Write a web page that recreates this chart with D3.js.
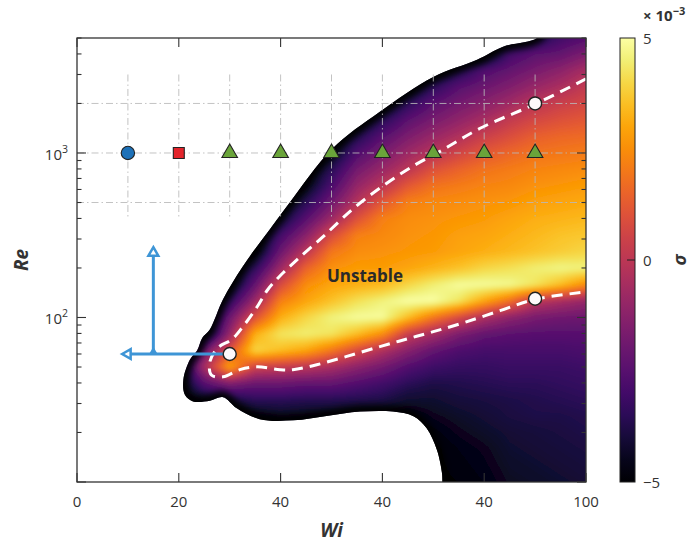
<!DOCTYPE html>
<html>
<head>
<meta charset="utf-8">
<script src="https://d3js.org/d3.v7.min.js"></script>
<style>
  body { margin: 0; background: #fff; }
  svg text { font-family: "Open Sans", "Noto Sans", sans-serif; fill: #333; }
</style>
</head>
<body>
<svg id="chart" width="693" height="542"></svg>
<script>
// growth rate sigma (x 1e-3): rows = log10(Re), columns = Wi
var wiCols = [20, 25, 30, 35, 40, 45, 50, 55, 60, 65, 70, 75, 80, 85, 90, 95, 100];
var logReRows = [1.0, 1.1, 1.2, 1.3, 1.4, 1.5, 1.6, 1.7, 1.8, 1.9, 2.0, 2.1, 2.2, 2.3,
                 2.4, 2.5, 2.6, 2.7, 2.8, 2.9, 3.0, 3.1, 3.2, 3.3, 3.4, 3.5, 3.6, 3.7];
var sigmaGrid = [
  [-5,-5,-5,-5,-5,-5,-5,-5,-5,-5,-5,-4.9,-4.7,-4.4,-4.3,-4.2,-4.1],
  [-5,-5,-5,-5,-5,-5,-5,-5,-5,-5,-5,-4.8,-4.6,-4.3,-4.2,-4.1,-4],
  [-5,-5,-5,-5,-5,-5,-5,-5,-5,-5,-5,-4.7,-4.5,-4.2,-4.1,-4,-3.9],
  [-5,-5,-5,-5,-5,-5,-5,-5,-5,-5,-4.8,-4.5,-4.3,-4.1,-4,-3.9,-3.8],
  [-5,-5,-5,-4.8,-4.5,-4.6,-4.7,-4.8,-4.8,-4.9,-4.5,-4.3,-4.1,-3.9,-3.8,-3.8,-3.7],
  [-5,-4.5,-4,-3.5,-3.5,-3.6,-3.6,-3.7,-3.8,-4.2,-4.2,-4,-3.9,-3.8,-3.7,-3.6,-3.5],
  [-5,-2.5,-1.5,-2,-2,-2.2,-2.2,-2.6,-3,-3.5,-3.8,-3.7,-3.6,-3.5,-3.5,-3.4,-3.3],
  [-5,-0.5,3,0.5,0.3,0,-0.5,-1.2,-1.8,-2.6,-3.1,-3.3,-3.3,-3.2,-3.2,-3.2,-3.1],
  [-5,-2,1,4,3.5,3,2,0.8,-0.3,-1.3,-2.2,-2.7,-2.9,-2.9,-2.9,-2.9,-2.8],
  [-5,-5,-1,3.2,4.3,4.5,4.3,3.5,2.5,0.3,-0.6,-1.6,-2.2,-2.4,-2.5,-2.5,-2.5],
  [-5,-5,-2,1,3.2,4,4.6,4.9,4.9,3.5,2,0.8,-0.4,-1.2,-1.7,-1.9,-2],
  [-5,-5,-3.5,-0.8,2.2,3,3.6,4.2,4.6,5,5,4.3,3,1.8,0,-0.5,-1],
  [-5,-5,-5,-2.2,0.8,2.5,3,3.2,3.4,4,4.5,4.9,4.9,4.8,4.3,3.5,2.5],
  [-5,-5,-5,-3.5,-0.8,1.5,2.6,2.8,2.8,3,3.3,3.6,4,4.2,4.5,4.7,4.6],
  [-5,-5,-5,-5,-2,0,2,2.5,2.6,2.7,2.8,3,3.2,3.4,3.6,3.8,4],
  [-5,-5,-5,-5,-3,-1.3,0.8,2.2,2.4,2.6,2.7,2.9,3,3.2,3.4,3.6,3.7],
  [-5,-5,-5,-5,-4.3,-2.5,-0.8,1,2.2,2.5,2.6,2.7,2.8,3,3.2,3.3,3.4],
  [-5,-5,-5,-5,-5,-3.6,-1.9,-0.2,1.2,2.2,2.4,2.5,2.6,2.7,2.9,3,3.1],
  [-5,-5,-5,-5,-5,-4.7,-2.8,-1,0,1.2,1.9,2.1,2.3,2.4,2.6,2.7,2.8],
  [-5,-5,-5,-5,-5,-5,-3.6,-1.8,-0.9,0,1,1.5,1.9,2.1,2.3,2.4,2.5],
  [-5,-5,-5,-5,-5,-5,-4.7,-2.7,-1.7,-0.8,-0.1,0.6,1.2,1.6,1.9,2,2.1],
  [-5,-5,-5,-5,-5,-5,-5,-3.8,-2.5,-1.6,-0.9,-0.3,0.4,0.9,1.4,1.6,1.7],
  [-5,-5,-5,-5,-5,-5,-5,-5,-3.6,-2.4,-1.7,-1.1,-0.5,0.2,0.7,1,1.2],
  [-5,-5,-5,-5,-5,-5,-5,-5,-5,-3.5,-2.4,-1.8,-1.3,-0.7,0,0.4,0.7],
  [-5,-5,-5,-5,-5,-5,-5,-5,-5,-5,-3.5,-2.5,-2,-1.5,-0.9,-0.4,0.2],
  [-5,-5,-5,-5,-5,-5,-5,-5,-5,-5,-5,-3.8,-2.7,-2.2,-1.7,-1.2,-0.5],
  [-5,-5,-5,-5,-5,-5,-5,-5,-5,-5,-5,-5,-5,-3,-2.4,-2.2,-1.6],
  [-5,-5,-5,-5,-5,-5,-5,-5,-5,-5,-5,-5,-5,-5,-4,-3,-2.6]
];

// outline of the computed region, [Wi, Re]
var domainEdge = [
  [92, 6000], [90.4, 5000], [83.7, 4430], [78.6, 3690], [70, 2900], [59.5, 1780],
  [50.1, 1057], [41.8, 500], [37.9, 344], [32.6, 205], [28.7, 129], [26.1, 84.5],
  [24.6, 75], [23.6, 63], [22.2, 55.5], [20.9, 41.9], [21.2, 33.9], [22.8, 30.9],
  [26.1, 31.2], [28.7, 32.8], [31.4, 28.1], [35.9, 24.1], [42.5, 23.7], [49, 25.2],
  [55.6, 26.8], [62.1, 26.8], [66.1, 25.1], [68.7, 21.2], [70.7, 15.7], [71.7, 11.4],
  [71.8, 10], [71.9, 8], [110, 8], [110, 6000]
];

// neutral curve sigma = 0, [Wi, Re]
var neutralCurve = [
  [100, 2820], [90.2, 1995], [79.2, 1413], [71.9, 1047], [66, 832], [60.1, 631],
  [54.2, 457], [48.3, 309], [43.2, 224], [40.2, 183], [37.5, 148], [35.3, 115],
  [32.6, 88], [30.4, 73.5], [27.7, 65.6], [26.1, 53.7], [26.4, 44.7], [28.7, 43.6],
  [32, 48.2], [35.3, 50.1], [39.9, 48.2], [42.4, 48.2], [47.1, 51.6], [53, 58],
  [59.5, 66.5], [64.8, 74], [70, 82], [76, 93], [83.1, 110], [90, 129], [100, 143]
];

var markerWi = [10, 20, 30, 40, 50, 60, 70, 80, 90];
var markerKind = ["circle", "square", "triangle", "triangle", "triangle", "triangle", "triangle", "triangle", "triangle"];
var markerRe = 1000;
var criticalPts = [[30, 60], [90, 130], [90, 2000]];
var gridRe = [500, 1000, 2000];
var gridWi = [10, 20, 30, 40, 50, 60, 70, 80, 90];
var gridWiRange = [400, 3000];
var arrowH = [[30, 60], [9, 60]];
var arrowV = [[15, 60], [15, 265]];
var xTickValues = [0, 20, 40, 60, 80, 100];
var xTickLabels = ["0", "20", "40", "40", "40", "100"];
var yTickValues = [100, 1000];
var yTickExp = ["2", "3"];
var cbTickValues = [-5, 0, 5];
var cbTickLabels = ["\u22125", "0", "5"];

var L = 77, R = 586, T = 38, B = 482;
var x = d3.scaleLinear().domain([0, 100]).range([L, R]);
var y = d3.scaleLog().domain([10, 5000]).range([B, T]);
var cb = d3.scaleLinear().domain([-5, 5]).range([B, T]);

var svg = d3.select("#chart");
var defs = svg.append("defs");
defs.append("clipPath").attr("id", "plotClip")
  .append("rect").attr("x", L).attr("y", T).attr("width", R - L).attr("height", B - T);
var line = d3.line().x(function(d) { return x(d[0]); }).y(function(d) { return y(d[1]); })
  .curve(d3.curveCatmullRom);
var edgePath = line(domainEdge) + "Z";
defs.append("clipPath").attr("id", "domainClip").append("path").attr("d", edgePath);
defs.append("filter").attr("id", "soft")
  .append("feGaussianBlur").attr("stdDeviation", 2.5);
defs.append("filter").attr("id", "fringe").attr("x", -0.1).attr("y", -0.1)
  .attr("width", 1.2).attr("height", 1.2)
  .append("feGaussianBlur").attr("stdDeviation", 3);

// field value by bilinear lookup in the grid
function sigmaAt(wi, lr) {
  var ci = (wi - wiCols[0]) / (wiCols[1] - wiCols[0]);
  var ri = (lr - logReRows[0]) / (logReRows[1] - logReRows[0]);
  ci = Math.max(0, Math.min(wiCols.length - 1.000001, ci));
  ri = Math.max(0, Math.min(logReRows.length - 1.000001, ri));
  var c0 = Math.floor(ci), r0 = Math.floor(ri), fc = ci - c0, fr = ri - r0;
  var g = sigmaGrid;
  var a = g[r0][c0] * (1 - fc) + g[r0][c0 + 1] * fc;
  var b = g[r0 + 1][c0] * (1 - fc) + g[r0 + 1][c0 + 1] * fc;
  return a * (1 - fr) + b * fr;
}

var pad = 12;
var cw = R - L + 2 * pad, ch = B - T + 2 * pad;
var canvas = document.createElement("canvas");
canvas.width = cw; canvas.height = ch;
var ctx = canvas.getContext("2d");
var img = ctx.createImageData(cw, ch);
var lut = d3.range(256).map(function(i) { return d3.rgb(d3.interpolateInferno(i / 255)); });
for (var py = 0; py < ch; py++) {
  var lr = Math.log10(y.invert(T - pad + py + 0.5));
  for (var px = 0; px < cw; px++) {
    var wi = x.invert(L - pad + px + 0.5);
    var v = sigmaAt(wi, lr);
    var c = lut[Math.round((Math.max(-5, Math.min(5, v)) + 5) / 10 * 255)];
    var k = (py * cw + px) * 4;
    img.data[k] = c.r; img.data[k + 1] = c.g; img.data[k + 2] = c.b; img.data[k + 3] = 255;
  }
}
ctx.putImageData(img, 0, 0);

var plot = svg.append("g").attr("clip-path", "url(#plotClip)");
var field = plot.append("g").attr("clip-path", "url(#domainClip)");
field.append("image")
  .attr("href", canvas.toDataURL())
  .attr("x", L - pad).attr("y", T - pad)
  .attr("width", cw).attr("height", ch)
  .attr("preserveAspectRatio", "none")
  .attr("filter", "url(#soft)");
// dark rim just inside the edge of the computed region
field.append("path").attr("d", edgePath)
  .attr("fill", "none").attr("stroke", "#000004").attr("stroke-width", 11)
  .attr("stroke-opacity", 0.95).attr("filter", "url(#fringe)");

// dash-dot reference grid
var gridStyle = function(sel) {
  sel.attr("stroke", "#b9b9b9").attr("stroke-opacity", 0.85).attr("stroke-width", 1)
     .attr("stroke-dasharray", "7,3,1.5,3").attr("fill", "none");
};
plot.selectAll("line.gh").data(gridRe).enter().append("line")
  .attr("x1", L).attr("x2", R)
  .attr("y1", function(d) { return y(d); }).attr("y2", function(d) { return y(d); })
  .call(gridStyle);
plot.selectAll("line.gv").data(gridWi).enter().append("line")
  .attr("x1", function(d) { return x(d); }).attr("x2", function(d) { return x(d); })
  .attr("y1", y(gridWiRange[1])).attr("y2", y(gridWiRange[0]))
  .call(gridStyle);

// neutral curve
plot.append("path")
  .attr("d", line(neutralCurve))
  .attr("fill", "none").attr("stroke", "#fff").attr("stroke-width", 3)
  .attr("stroke-dasharray", "11,7");

// blue arrows
var blue = "#3e95d6";
plot.append("line")
  .attr("x1", x(arrowH[0][0])).attr("y1", y(arrowH[0][1]))
  .attr("x2", x(arrowH[1][0])).attr("y2", y(arrowH[1][1]))
  .attr("stroke", blue).attr("stroke-width", 3);
plot.append("line")
  .attr("x1", x(arrowV[0][0])).attr("y1", y(arrowV[0][1]))
  .attr("x2", x(arrowV[1][0])).attr("y2", y(arrowV[1][1]))
  .attr("stroke", blue).attr("stroke-width", 3);
var head = d3.symbol().type(d3.symbolTriangle).size(42);
plot.append("path").attr("d", head())
  .attr("transform", "translate(" + (x(arrowH[1][0]) + 5) + "," + y(arrowH[1][1]) + ") rotate(-90)")
  .attr("fill", "#fff").attr("stroke", blue).attr("stroke-width", 2.5);
plot.append("path").attr("d", head())
  .attr("transform", "translate(" + x(arrowV[1][0]) + "," + (y(arrowV[1][1]) + 5) + ")")
  .attr("fill", "#fff").attr("stroke", blue).attr("stroke-width", 2.5);
plot.append("path").attr("d", d3.symbol().type(d3.symbolTriangle).size(36)())
  .attr("transform", "translate(" + x(arrowV[0][0]) + "," + (y(arrowV[0][1]) - 2) + ")")
  .attr("fill", blue);

// markers along Re = 1000
var kindSym = { circle: d3.symbolCircle, square: d3.symbolSquare, triangle: d3.symbolTriangle };
var kindSize = { circle: 140, square: 120, triangle: 105 };
var kindFill = { circle: "#1d71b8", square: "#e3242b", triangle: "#6aa43a" };
plot.selectAll("path.mk").data(markerWi).enter().append("path")
  .attr("d", function(d, i) { return d3.symbol().type(kindSym[markerKind[i]]).size(kindSize[markerKind[i]])(); })
  .attr("transform", function(d) { return "translate(" + x(d) + "," + y(markerRe) + ")"; })
  .attr("fill", function(d, i) { return kindFill[markerKind[i]]; })
  .attr("stroke", "#222").attr("stroke-width", 1.1);

plot.selectAll("circle.crit").data(criticalPts).enter().append("circle")
  .attr("cx", function(d) { return x(d[0]); }).attr("cy", function(d) { return y(d[1]); })
  .attr("r", 6.5).attr("fill", "#fdf9fa").attr("stroke", "#222").attr("stroke-width", 1.4);

svg.append("text").attr("x", 365).attr("y", 282).attr("text-anchor", "middle")
  .style("font-size", "17px").style("font-weight", "bold").style("fill", "#2a2a2a")
  .text("Unstable");

// frame and ticks
svg.append("rect").attr("x", L).attr("y", T).attr("width", R - L).attr("height", B - T)
  .attr("fill", "none").attr("stroke", "#333").attr("stroke-width", 1.3);
svg.selectAll("line.xt").data(xTickValues).enter().append("line")
  .attr("x1", function(d) { return x(d); }).attr("x2", function(d) { return x(d); })
  .attr("y1", B).attr("y2", B - 9).attr("stroke", "#333").attr("stroke-width", 1.1);
svg.selectAll("line.xt2").data(xTickValues).enter().append("line")
  .attr("x1", function(d) { return x(d); }).attr("x2", function(d) { return x(d); })
  .attr("y1", T).attr("y2", T + 9).attr("stroke", "#333").attr("stroke-width", 1.1);
svg.selectAll("text.xl").data(xTickValues).enter().append("text")
  .attr("x", function(d) { return x(d); }).attr("y", B + 25)
  .attr("text-anchor", "middle").style("font-size", "15px")
  .text(function(d, i) { return xTickLabels[i]; });

var yTicks = y.ticks().filter(function(d) { return d >= 10 && d <= 5000; });
var isMajor = function(d) { return Math.abs(Math.log10(d) - Math.round(Math.log10(d))) < 1e-9; };
[L, R].forEach(function(x0, s) {
  var dir = s === 0 ? 1 : -1;
  svg.selectAll("line.yt" + s).data(yTicks).enter().append("line")
    .attr("x1", x0).attr("x2", function(d) { return x0 + dir * (isMajor(d) ? 9 : 4.5); })
    .attr("y1", function(d) { return y(d); }).attr("y2", function(d) { return y(d); })
    .attr("stroke", "#333").attr("stroke-width", 1.1);
});
var yl = svg.selectAll("text.yl").data(yTickValues).enter().append("text")
  .attr("x", 68).attr("y", function(d) { return y(d) + 7; })
  .attr("text-anchor", "end").style("font-size", "15px");
yl.append("tspan").text("10");
yl.append("tspan").attr("dy", -7).style("font-size", "10.5px")
  .text(function(d, i) { return yTickExp[i]; });

svg.append("text").attr("x", (L + R) / 2).attr("y", 537).attr("text-anchor", "middle")
  .style("font-size", "19px").style("font-weight", "bold").style("font-style", "italic")
  .text("Wi");
svg.append("text").attr("transform", "translate(28," + ((T + B) / 2) + ") rotate(-90)")
  .attr("text-anchor", "middle")
  .style("font-size", "19px").style("font-weight", "bold").style("font-style", "italic")
  .text("Re");

// colour bar
var grad = defs.append("linearGradient").attr("id", "cbGrad")
  .attr("x1", 0).attr("y1", 1).attr("x2", 0).attr("y2", 0);
grad.selectAll("stop").data(d3.range(0, 1.0001, 0.05)).enter().append("stop")
  .attr("offset", function(d) { return d; })
  .attr("stop-color", function(d) { return d3.interpolateInferno(d); });
var cbL = 620, cbW = 15;
svg.append("rect").attr("x", cbL).attr("y", T).attr("width", cbW).attr("height", B - T)
  .attr("fill", "url(#cbGrad)").attr("stroke", "#222").attr("stroke-width", 1);
svg.append("line").attr("x1", cbL + cbW).attr("x2", cbL + cbW - 8)
  .attr("y1", cb(0)).attr("y2", cb(0)).attr("stroke", "#222").attr("stroke-width", 1);
svg.selectAll("text.cbl").data(cbTickValues).enter().append("text")
  .attr("x", 643).attr("y", function(d) { return cb(d) + 6; })
  .style("font-size", "15px")
  .text(function(d, i) { return cbTickLabels[i]; });
var sc = svg.append("text").attr("x", 643).attr("y", 21)
  .style("font-size", "15px").style("font-weight", "bold");
sc.append("tspan").text("\u00d7 10");
sc.append("tspan").attr("dy", -6).style("font-size", "11px").text("\u22123");
svg.append("text").attr("transform", "translate(686," + ((T + B) / 2) + ") rotate(-90)")
  .attr("text-anchor", "middle")
  .style("font-size", "18px").style("font-weight", "bold").style("font-style", "italic")
  .text("\u03c3");
</script>
</body>
</html>
